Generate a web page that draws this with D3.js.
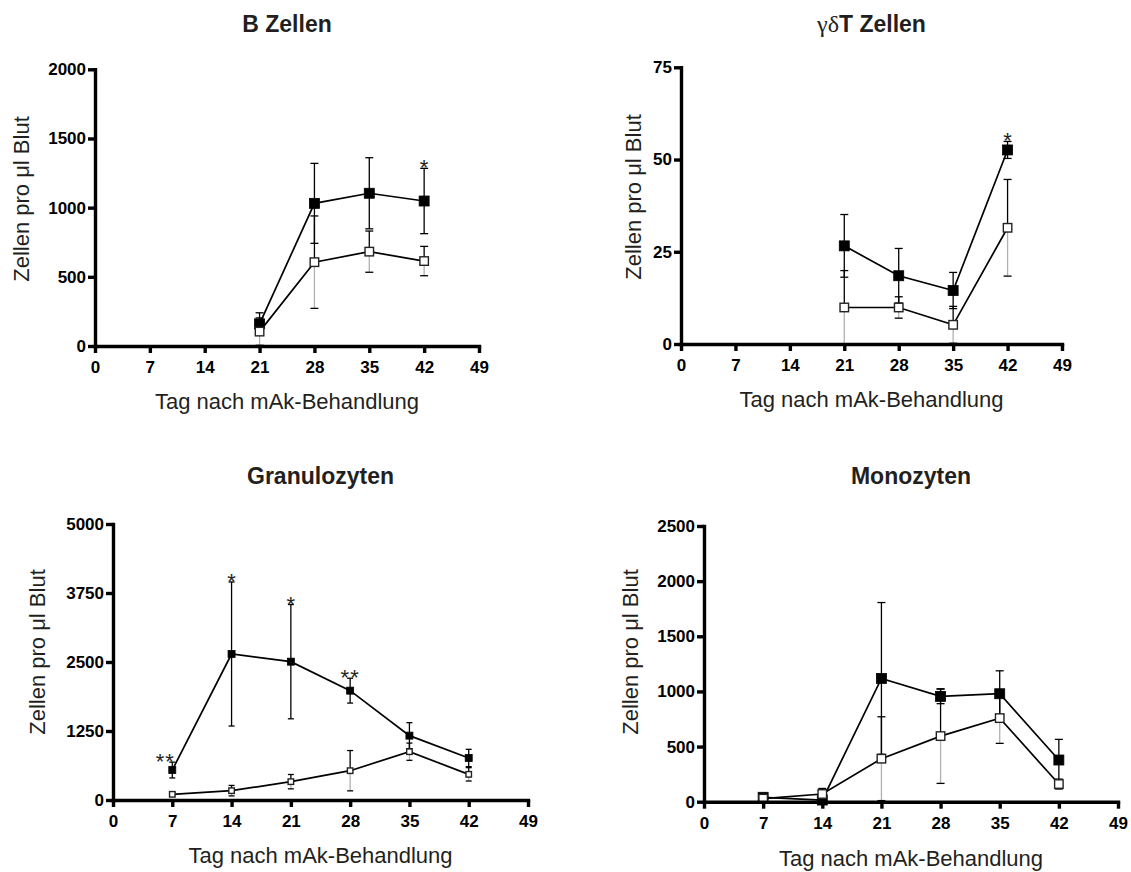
<!DOCTYPE html>
<html>
<head>
<meta charset="utf-8">
<script src="https://cdn.jsdelivr.net/npm/d3@7"></script>
<style>
  body { margin: 0; background: #fff; }
  svg { display: block; }
  .axis path.domain { stroke: #000; stroke-width: 3.4px; stroke-linecap: square; }
  .axis .tick line { stroke: #000; stroke-width: 3.4px; }
  .axis .tick text { font-family: 'Liberation Sans', Arial, Helvetica, sans-serif; font-size: 17px; font-weight: bold; fill: #000; }
</style>
</head>
<body>
<svg id="chart" width="1131" height="872"></svg>
<script>
// ---- data ----
const xTicks = [0, 7, 14, 21, 28, 35, 42, 49];

// B Zellen
const bDays = [21, 28, 35, 42];
const bFilled = [160, 1031, 1104, 1048];
const bFilledSD = [80, 289, 257, 236];
const bOpen = [104, 606, 682, 614];
const bOpenSD = [99, 334, 149, 106];
const bStars = ["", "", "", "*"];
const bTicks = [0, 500, 1000, 1500, 2000];

// γδT Zellen
const gdDays = [21, 28, 35, 42];
const gdFilled = [26.6, 18.5, 14.5, 52.6];
const gdFilledSD = [8.5, 7.4, 4.9, 2.3];
const gdOpen = [9.9, 9.9, 5.2, 31.5];
const gdOpenSD = [10, 2.9, 5, 13.1];
const gdStars = ["", "", "", "*"];
const gdTicks = [0, 25, 50, 75];

// Granulozyten
const grDays = [7, 14, 21, 28, 35, 42];
const grFilled = [543, 2645, 2506, 1981, 1166, 761];
const grFilledSD = [143, 1305, 1035, 225, 235, 157];
const grOpen = [103, 169, 332, 531, 875, 465];
const grOpenSD = [30, 95, 130, 365, 156, 121];
const grStars = ["**", "*", "*", "**", "", ""];
const grTicks = [0, 1250, 2500, 3750, 5000];

// Monozyten
const moDays = [7, 14, 21, 28, 35, 42];
const moFilled = [40, 15, 1118, 955, 979, 378];
const moFilledSD = [10, 10, 688, 66, 208, 187];
const moOpen = [28, 70, 390, 595, 758, 160];
const moOpenSD = [10, 50, 380, 429, 229, 45];
const moStars = ["", "", "", "", "", ""];
const moTicks = [0, 500, 1000, 1500, 2000, 2500];

const xLabel = "Tag nach mAk-Behandlung";
const yLabel = "Zellen pro μl Blut";

// ---- layout ----
const SANS = "'Liberation Sans', Arial, Helvetica, sans-serif";
const panels = [
  { title: [["B Zellen", null]], days: bDays, filled: bFilled, filledSD: bFilledSD, open: bOpen, openSD: bOpenSD, stars: bStars, yTicks: bTicks,
    left: 95, right: 479, top: 69.3, bottom: 346, titleY: 32, xLabelY: 409, yLabelX: 21, yLabelY: 199, mark: 10, cap: 8 },
  { title: [["γδ", "serif"], ["T Zellen", null]], days: gdDays, filled: gdFilled, filledSD: gdFilledSD, open: gdOpen, openSD: gdOpenSD, stars: gdStars, yTicks: gdTicks,
    left: 681, right: 1062, top: 67.3, bottom: 344, titleY: 32, xLabelY: 407, yLabelX: 633, yLabelY: 197, mark: 10, cap: 8 },
  { title: [["Granulozyten", null]], days: grDays, filled: grFilled, filledSD: grFilledSD, open: grOpen, openSD: grOpenSD, stars: grStars, yTicks: grTicks,
    left: 113, right: 528, top: 524, bottom: 800, titleY: 484, xLabelY: 863, yLabelX: 37, yLabelY: 652, mark: 7, cap: 6 },
  { title: [["Monozyten", null]], days: moDays, filled: moFilled, filledSD: moFilledSD, open: moOpen, openSD: moOpenSD, stars: moStars, yTicks: moTicks,
    left: 704, right: 1118, top: 526, bottom: 801.7, titleY: 484, xLabelY: 866, yLabelX: 630, yLabelY: 652, mark: 10, cap: 8 }
];

const svg = d3.select("#chart");
const fmt = d3.format("d");

function drawPanel(p) {
  const x = d3.scaleLinear().domain([0, 49]).range([p.left, p.right]);
  const yMax = p.yTicks[p.yTicks.length - 1];
  const y = d3.scaleLinear().domain([0, yMax]).range([p.bottom, p.top]);
  const g = svg.append("g");

  // title
  const t = g.append("text")
    .attr("x", (p.left + p.right) / 2).attr("y", p.titleY)
    .attr("text-anchor", "middle")
    .style("font-family", SANS).style("font-size", "23px").style("font-weight", "bold")
    .style("fill", "#231f20");
  p.title.forEach(([txt, fam]) => {
    const ts = t.append("tspan").text(txt);
    if (fam === "serif") ts.style("font-family", "'Liberation Serif', 'Times New Roman', serif").style("font-weight", "normal").style("font-size", "24px");
  });

  // series: filled squares first, open squares on top
  const series = [
    { mean: p.filled, sd: p.filledSD, fill: "#000", lowColor: "#000", stars: p.stars },
    { mean: p.open, sd: p.openSD, fill: "#fff", lowColor: "#b0b0b0", stars: null }
  ];

  series.forEach(s => {
    const pts = p.days.map((d, i) => ({ d, m: s.mean[i], sd: s.sd[i] }));

    g.append("path").datum(pts)
      .attr("d", d3.line().x(q => x(q.d)).y(q => y(q.m)))
      .attr("fill", "none").attr("stroke", "#000").attr("stroke-width", 1.7);

    const eb = g.append("g").selectAll("g").data(pts).join("g");
    // upper whisker
    eb.append("line")
      .attr("x1", q => x(q.d)).attr("x2", q => x(q.d))
      .attr("y1", q => y(q.m)).attr("y2", q => y(q.m + q.sd))
      .attr("stroke", "#000").attr("stroke-width", 1.3);
    eb.append("line")
      .attr("x1", q => x(q.d) - p.cap / 2).attr("x2", q => x(q.d) + p.cap / 2)
      .attr("y1", q => y(q.m + q.sd)).attr("y2", q => y(q.m + q.sd))
      .attr("stroke", "#000").attr("stroke-width", 1.3);
    // lower whisker
    eb.append("line")
      .attr("x1", q => x(q.d)).attr("x2", q => x(q.d))
      .attr("y1", q => y(q.m)).attr("y2", q => y(Math.max(0, q.m - q.sd)))
      .attr("stroke", s.lowColor).attr("stroke-width", 1.3);
    eb.append("line")
      .attr("x1", q => x(q.d) - p.cap / 2).attr("x2", q => x(q.d) + p.cap / 2)
      .attr("y1", q => y(Math.max(0, q.m - q.sd))).attr("y2", q => y(Math.max(0, q.m - q.sd)))
      .attr("stroke", "#000").attr("stroke-width", 1.3);

    if (s.stars) {
      g.append("g").selectAll("text").data(pts.map((q, i) => ({ ...q, s: s.stars[i], i })).filter(q => q.s))
        .join("text")
        .attr("x", q => x(q.d) + (q.i === 0 && q.s.length > 1 ? -7 : 0))
        .attr("y", q => y(q.m + q.sd) + 7)
        .attr("text-anchor", "middle")
        .style("font-family", SANS).style("font-size", "22px")
        .style("letter-spacing", q => q.s.length > 1 ? "1px" : "0px")
        .style("fill", "#231f20")
        .text(q => q.s);
    }
  });

  // markers drawn after all lines and bars
  series.forEach(s => {
    const pts = p.days.map((d, i) => ({ d, m: s.mean[i] }));
    const size = s.fill === "#000" ? p.mark : p.mark - 1.5;
    g.append("g").selectAll("rect").data(pts).join("rect")
      .attr("x", q => x(q.d) - size / 2).attr("y", q => y(q.m) - size / 2)
      .attr("width", size).attr("height", size)
      .attr("fill", s.fill)
      .attr("stroke", s.fill === "#000" ? "#000" : "#222")
      .attr("stroke-width", s.fill === "#000" ? 0.8 : 1.4);
  });

  // axes
  g.append("g").attr("class", "axis").attr("transform", `translate(0,${p.bottom})`)
    .call(d3.axisBottom(x).tickValues(xTicks).tickFormat(fmt).tickSize(7).tickSizeOuter(0).tickPadding(8));
  g.append("g").attr("class", "axis").attr("transform", `translate(${p.left},0)`)
    .call(d3.axisLeft(y).tickValues(p.yTicks).tickFormat(fmt).tickSize(7).tickSizeOuter(0).tickPadding(2));

  // axis titles
  g.append("text")
    .attr("x", (p.left + p.right) / 2).attr("y", p.xLabelY)
    .attr("text-anchor", "middle")
    .style("font-family", SANS).style("font-size", "22px").style("fill", "#231f20")
    .text(xLabel);
  g.append("text")
    .attr("transform", `translate(${p.yLabelX + 8},${p.yLabelY}) rotate(-90)`)
    .attr("text-anchor", "middle")
    .style("font-family", SANS).style("font-size", "22px").style("fill", "#231f20")
    .text(yLabel);
}

panels.forEach(drawPanel);
</script>
</body>
</html>
